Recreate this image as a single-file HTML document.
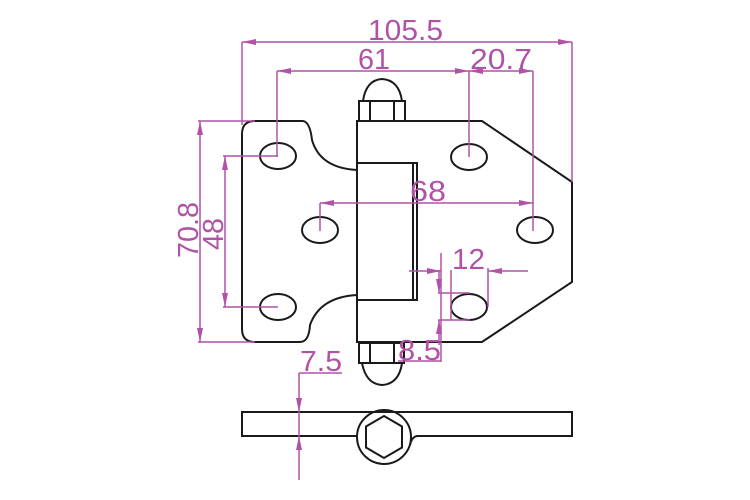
<!DOCTYPE html>
<html><head><style>html,body{margin:0;padding:0;background:#fff;}svg{display:block}</style></head>
<body>
<svg width="750" height="500" viewBox="0 0 750 500" xmlns="http://www.w3.org/2000/svg">
<defs>
<marker id="a" viewBox="0 0 14 6" refX="14" refY="3" markerWidth="14" markerHeight="6" markerUnits="userSpaceOnUse" orient="auto-start-reverse"><path d="M0,0 L14,3 L0,6 Z" fill="#b152a6"/></marker>
</defs>
<g fill="none" stroke="#1a1a1a" stroke-width="2">
<path d="M255,121 L303,121 Q310,122 312,140 Q320,168 357,170 L357,121 L413,121 L482,121 L572,182 L572,282 L482,342 L413,342 L357,342 L357,295 Q320,297 310,325 Q309,342 300,342 L255,342 Q242,342 242,329 L242,134 Q242,121 255,121 Z"/>
<line x1="357" y1="121" x2="357" y2="342"/>
<rect x="357" y="163" width="60" height="137"/>
<line x1="413" y1="163" x2="413" y2="300"/>
<ellipse cx="278" cy="156" rx="18" ry="13"/>
<ellipse cx="469" cy="157" rx="18" ry="13"/>
<ellipse cx="320" cy="230" rx="18" ry="13"/>
<ellipse cx="535" cy="230" rx="18" ry="13"/>
<ellipse cx="278" cy="307" rx="18" ry="13"/>
<ellipse cx="469" cy="307" rx="18" ry="13"/>
<rect x="359" y="101" width="46" height="20"/>
<line x1="370" y1="101" x2="370" y2="121"/><line x1="394" y1="101" x2="394" y2="121"/>
<path d="M363,101 Q366,80 382,79 Q399,80 402,101"/>
<rect x="359" y="343" width="45" height="20"/>
<line x1="370" y1="343" x2="370" y2="363"/><line x1="394" y1="343" x2="394" y2="363"/>
<path d="M362,363 Q366,384 382,385 Q399,384 402,363"/>
<path d="M357,436 L242,436 L242,412 L572,412 L572,436 L418,436 Q412,436 410,445"/>
<circle cx="384" cy="437" r="27"/>
<polygon points="384,416 402,426.5 402,447.5 384,458 366,447.5 366,426.5"/>
</g>
<g stroke="#b152a6" stroke-width="1.5" fill="none">
<line x1="242" y1="42" x2="572" y2="42" marker-start="url(#a)" marker-end="url(#a)"/>
<line x1="242" y1="42" x2="242" y2="125"/><line x1="572" y1="42" x2="572" y2="182"/>
<line x1="277" y1="71" x2="469" y2="71" marker-start="url(#a)" marker-end="url(#a)"/>
<line x1="277" y1="71" x2="277" y2="157"/><line x1="469" y1="71" x2="469" y2="157"/>
<line x1="469" y1="71" x2="533" y2="71" marker-start="url(#a)" marker-end="url(#a)"/>
<line x1="533" y1="71" x2="533" y2="231"/>
<line x1="320" y1="203" x2="533" y2="203" marker-start="url(#a)" marker-end="url(#a)"/>
<line x1="320" y1="203" x2="320" y2="231"/>
<line x1="200" y1="121" x2="200" y2="342" marker-start="url(#a)" marker-end="url(#a)"/>
<line x1="198" y1="121" x2="255" y2="121"/><line x1="198" y1="342" x2="255" y2="342"/>
<line x1="225" y1="156" x2="225" y2="307" marker-start="url(#a)" marker-end="url(#a)"/>
<line x1="223" y1="156" x2="278" y2="156"/><line x1="223" y1="307" x2="278" y2="307"/>
<line x1="409" y1="271" x2="441" y2="271" marker-end="url(#a)"/>
<line x1="528" y1="271" x2="488" y2="271" marker-end="url(#a)"/>
<line x1="441" y1="253" x2="441" y2="362"/><line x1="488" y1="268" x2="488" y2="307"/>
<line x1="451" y1="270" x2="451" y2="320"/>
<line x1="438" y1="293" x2="470" y2="293"/><line x1="438" y1="320" x2="470" y2="320"/>
<line x1="439" y1="270" x2="439" y2="293" marker-end="url(#a)"/>
<line x1="439" y1="345" x2="439" y2="320" marker-end="url(#a)"/>
<line x1="398" y1="361" x2="441" y2="361"/>
<line x1="299" y1="373" x2="342" y2="373"/>
<line x1="299" y1="373" x2="299" y2="412" marker-end="url(#a)"/>
<line x1="299" y1="480" x2="299" y2="436" marker-end="url(#a)"/>
<line x1="299" y1="412" x2="299" y2="436"/>
</g>
<g fill="#b152a6" font-family="Liberation Sans, sans-serif" font-size="29">
<text x="368" y="40" textLength="75" lengthAdjust="spacingAndGlyphs">105.5</text>
<text x="358" y="69" textLength="32" lengthAdjust="spacingAndGlyphs">61</text>
<text x="470" y="69" textLength="62" lengthAdjust="spacingAndGlyphs">20.7</text>
<text x="410" y="201" textLength="36" lengthAdjust="spacingAndGlyphs">68</text>
<text x="452" y="269" textLength="33" lengthAdjust="spacingAndGlyphs">12</text>
<text x="398" y="360" textLength="43" lengthAdjust="spacingAndGlyphs">8.5</text>
<text x="300" y="371" textLength="42" lengthAdjust="spacingAndGlyphs">7.5</text>
<text transform="translate(198,258) rotate(-90)" textLength="56" lengthAdjust="spacingAndGlyphs">70.8</text>
<text transform="translate(223,250) rotate(-90)" textLength="32" lengthAdjust="spacingAndGlyphs">48</text>
</g>
</svg>
</body></html>
